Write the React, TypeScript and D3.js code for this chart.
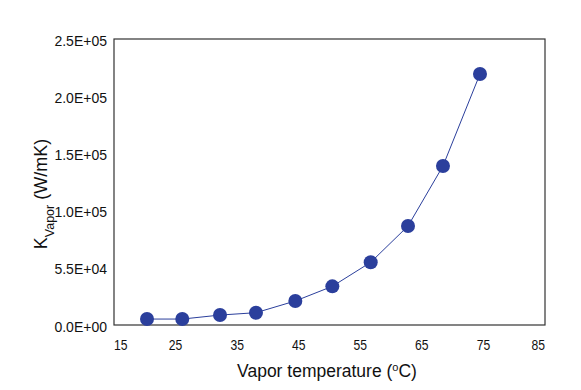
import React, { useEffect } from "react";
import * as d3 from "d3";

const temperatures = [20.36, 26.09, 32.22, 38.06, 44.45, 50.46, 56.69, 62.75, 68.43, 74.44];
const kVapor = [5200, 5200, 8700, 10750, 21000, 33800, 54800, 86500, 139000, 219400];
const xTicks = [15, 25, 35, 45, 55, 65, 75, 85];
const yTickValues = [0, 50000, 100000, 150000, 200000, 250000];
const yTickLabels = ["0.0E+00", "5.5E+04", "1.0E+05", "1.5E+05", "2.0E+05", "2.5E+05"];

const W = 581;
const H = 390;
const M = { left: 114, right: 545, top: 39, bottom: 325 };
const COLOR = "#2b3f9c";
const FONT = "'Liberation Sans', Arial, sans-serif";

export default function App() {
  useEffect(() => {
    document.body.style.margin = "0";
  }, []);

  const x = d3.scaleLinear().domain([15, 85]).range([M.left, M.right]);
  const y = d3.scaleLinear().domain([0, 250000]).range([M.bottom, M.top]);

  const pts = temperatures.map((t, i) => [x(t), y(kVapor[i])] as [number, number]);
  const line = d3.line()(pts) || "";

  return (
    <svg width={W} height={H} style={{ display: "block", background: "#fff" }} fontFamily={FONT}>
      <rect
        x={M.left}
        y={M.top}
        width={M.right - M.left}
        height={M.bottom - M.top}
        fill="none"
        stroke="#333"
        strokeWidth={1.2}
      />
      {yTickValues.map((v, i) => (
        <text key={v} x={M.left - 7} y={y(v) + 6.5} fontSize={14} textAnchor="end" fill="#111">
          {yTickLabels[i]}
        </text>
      ))}
      {xTicks.map((t, i) => (
        <text
          key={t}
          x={x(t)}
          y={349.5}
          fontSize={14}
          textAnchor={i === 0 ? "start" : i === xTicks.length - 1 ? "end" : "middle"}
          textLength={13.5}
          lengthAdjust="spacingAndGlyphs"
          fill="#111"
        >
          {t}
        </text>
      ))}
      <path d={line} fill="none" stroke={COLOR} strokeWidth={1} />
      {pts.map((p, i) => (
        <circle key={i} cx={p[0]} cy={p[1]} r={7} fill={COLOR} />
      ))}
      <text x={327} y={377} fontSize={17.5} textAnchor="middle" fill="#111">
        Vapor temperature (<tspan fontSize={11} baselineShift="super">o</tspan>C)
      </text>
      <text
        transform={`translate(47,194) rotate(-90)`}
        fontSize={18}
        textAnchor="middle"
        fill="#111"
      >
        K<tspan fontSize={12.5} baselineShift="sub">Vapor</tspan> (W/mK)
      </text>
    </svg>
  );
}
